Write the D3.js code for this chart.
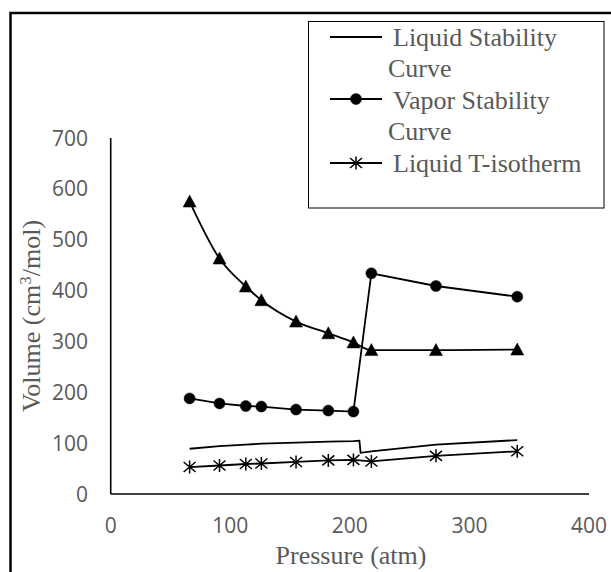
<!DOCTYPE html>
<html lang="en">
<head>
    <meta charset="UTF-8">
    <title>Stability curves</title>
    <script src="https://d3js.org/d3.v7.min.js"></script>
    <style>
        body { margin: 0; background: #fff; }
        .tick-label { font-family: 'Open Sans', sans-serif; font-size: 21px; fill: #595959; }
        .serif { font-family: 'Liberation Serif', 'Times New Roman', serif; font-size: 26px; fill: #595959; }
    </style>
</head>
<body>
<script>
    const width  = 611;
    const height = 572;

    // pressures (atm)
    const pressure = [66, 91, 113, 126, 155, 182, 203, 218, 272, 340];

    const vaporStability = [188, 178, 173, 172, 166, 164, 162, 434, 409, 388];
    const triangleSeries = [575, 463, 408, 381, 339, 316, 298, 283, 283, 284];
    const liquidIsotherm = [53, 56, 59, 60, 63, 66, 67, 64, 75, 84];

    // liquid stability curve has its own points (the drop sits between 203 and 218)
    const liquidStabP = [66, 91, 113, 126, 155, 182, 203, 208, 209, 218, 272, 340];
    const liquidStabV = [89, 94, 97, 99, 101, 103, 104, 105, 81, 84, 97, 106];

    const xTicks = [0, 100, 200, 300, 400];
    const yTicks = [0, 100, 200, 300, 400, 500, 600, 700];

    const legendLines = [
        {label: ["Liquid Stability", "Curve"], marker: null},
        {label: ["Vapor Stability", "Curve"], marker: "circle"},
        {label: ["Liquid T-isotherm"], marker: "star"}
    ];

    const x = d3.scaleLinear().domain([0, 400]).range([110.7, 589]);
    const y = d3.scaleLinear().domain([0, 700]).range([494, 138]);

    const svg = d3.select("body").append("svg").attr("width", width).attr("height", height);

    // outer frame (only top and left edges show)
    svg.append("rect")
        .attr("x", 10.5).attr("y", 13)
        .attr("width", 700).attr("height", 700)
        .attr("fill", "none").attr("stroke", "#000").attr("stroke-width", 2.5);

    // axes
    svg.append("line")
        .attr("x1", x(0)).attr("x2", x(0)).attr("y1", y(700)).attr("y2", y(0))
        .attr("stroke", "#000").attr("stroke-width", 1.6);
    svg.append("line")
        .attr("x1", x(0)).attr("x2", x(400)).attr("y1", y(0)).attr("y2", y(0))
        .attr("stroke", "#000").attr("stroke-width", 1.6);

    svg.selectAll(".ytick").data(yTicks).enter().append("text")
        .attr("class", "tick-label")
        .attr("x", 88).attr("y", d => y(d))
        .attr("dy", "0.36em")
        .attr("text-anchor", "end")
        .text(d => d);

    svg.selectAll(".xtick").data(xTicks).enter().append("text")
        .attr("class", "tick-label")
        .attr("x", d => x(d)).attr("y", 533)
        .attr("text-anchor", "middle")
        .text(d => d);

    svg.append("text").attr("class", "serif")
        .attr("x", 351).attr("y", 564)
        .attr("text-anchor", "middle")
        .text("Pressure (atm)");

    const yTitle = svg.append("text").attr("class", "serif")
        .attr("transform", "translate(40,316) rotate(-90)")
        .attr("text-anchor", "middle");
    yTitle.append("tspan").text("Volume (cm");
    yTitle.append("tspan").attr("dy", -9).attr("font-size", 17).text("3");
    yTitle.append("tspan").attr("dy", 9).text("/mol)");

    function drawSeries(xs, ys, marker, curve) {
        const pts = xs.map((d, i) => [d, ys[i]]);
        const line = d3.line().x(d => x(d[0])).y(d => y(d[1])).curve(curve || d3.curveLinear);
        svg.append("path")
            .attr("d", line(pts))
            .attr("fill", "none").attr("stroke", "#000").attr("stroke-width", 1.8);
        if (marker) {
            svg.selectAll(null).data(pts).enter().append("path")
                .attr("d", markerPath(marker))
                .attr("transform", d => "translate(" + [x(d[0]), y(d[1])] + ")")
                .attr("fill", marker == "star" ? "none" : "#000")
                .attr("stroke", "#000")
                .attr("stroke-width", marker == "star" ? 1.5 : 0.5);
        }
    }

    function markerPath(type) {
        if (type == "circle") return d3.symbol().type(d3.symbolCircle).size(95)();
        if (type == "triangle") return "M0,-6.5L6.5,5.5L-6.5,5.5Z";
        // star: vertical bar plus an X
        return "M0,-6.5L0,6.5M-6,-5L6,5M-6,5L6,-5";
    }

    drawSeries(liquidStabP, liquidStabV, null);
    drawSeries(pressure, liquidIsotherm, "star");
    drawSeries(pressure, triangleSeries, "triangle", d3.curveMonotoneX);
    drawSeries(pressure, vaporStability, "circle");

    // legend
    const lg = svg.append("g");
    lg.append("rect")
        .attr("x", 308.5).attr("y", 21.5).attr("width", 295.5).attr("height", 186.5)
        .attr("fill", "#fff").attr("stroke", "#000").attr("stroke-width", 1);

    const sampleY = [37, 99, 163];
    const textY = [45.5, 108.5, 171.5];
    legendLines.forEach((d, i) => {
        lg.append("line")
            .attr("x1", 330).attr("x2", 382).attr("y1", sampleY[i]).attr("y2", sampleY[i])
            .attr("stroke", "#000").attr("stroke-width", 1.8);
        if (d.marker) {
            lg.append("path")
                .attr("d", markerPath(d.marker))
                .attr("transform", "translate(356," + sampleY[i] + ")")
                .attr("fill", d.marker == "star" ? "none" : "#000")
                .attr("stroke", "#000").attr("stroke-width", d.marker == "star" ? 1.5 : 0.5);
        }
        d.label.forEach((t, j) => {
            lg.append("text").attr("class", "serif")
                .attr("x", j == 0 ? 393 : 388)
                .attr("y", textY[i] + j * 31.5)
                .text(t);
        });
    });
</script>
</body>
</html>
